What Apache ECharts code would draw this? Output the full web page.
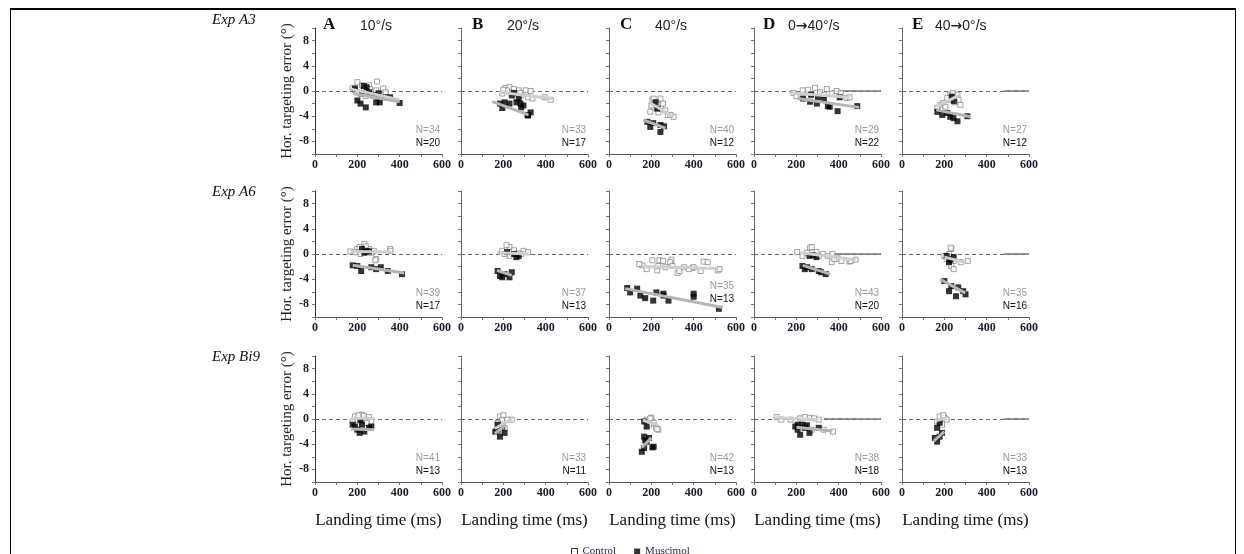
<!DOCTYPE html>
<html>
<head>
<meta charset="utf-8">
<script src="https://cdn.jsdelivr.net/npm/echarts@6/dist/echarts.min.js"></script>
<style>
  html, body { margin: 0; padding: 0; background: #fff; }
  #main { width: 1244px; height: 554px; }
</style>
</head>
<body>
<div id="main"></div>
<script>
// 行/列标签
var rowNames = ['Exp A3', 'Exp A6', 'Exp Bi9'];
var panelLetters = ['A', 'B', 'C', 'D', 'E'];
var speedLabels = ['10°/s', '20°/s', '40°/s', '0→40°/s', '40→0°/s'];
var nControl = [[34, 33, 40, 29, 27], [39, 37, 35, 43, 35], [41, 33, 42, 38, 33]];
var nMuscimol = [[20, 17, 12, 22, 12], [17, 13, 13, 20, 16], [13, 11, 13, 18, 13]];
// 零线从这里开始变为实线 (D, E 列)
var solidFrom = [[null, null, null, 370, 480], [null, null, null, 370, 480], [null, null, null, 330, 480]];

// Exp A3 数据 [landing time, error]
var ctlA3 = [
  [[200,1.4],[293,1.5],[189,0.1],[244,0.6],[322,0.4],[333,-0.2],[211,-0.4],[266,-0.4],[178,0.4],[233,0.1],[289,0.1],[255,0.9],[311,-0.7],[222,0.9],[200,-0.2],[260,0.3],[240,-0.8],[300,-0.3]],
  [[210,0.5],[229,0.6],[273,0.1],[306,0.1],[240,-0.2],[195,-0.4],[284,-0.7],[317,-1.0],[395,-1.0],[424,-1.4],[262,-1.2],[218,0.1],[329,0.0],[338,-1.2],[250,0.3],[200,0.2],[280,-0.3]],
  [[205,-1.4],[243,-1.2],[211,-1.2],[222,-1.8],[211,-2.6],[244,-2.8],[233,-3.4],[278,-3.8],[290,-3.8],[305,-4.1],[266,-3.1],[200,-2.3],[255,-2.0],[195,-3.3],[230,-2.2]],
  [[186,-0.3],[256,0.2],[288,0.5],[344,0.3],[390,0.0],[437,-1.1],[451,-1.0],[218,-0.6],[312,-0.2],[367,-0.4],[230,0.1],[270,-0.5],[330,-0.6],[410,-0.3],[200,-0.8]],
  [[228,-0.6],[219,-1.4],[243,-1.0],[267,-1.4],[276,-2.2],[181,-2.2],[195,-1.9],[214,-1.1],[262,-0.6],[167,-2.7],[240,-0.3],[250,-1.8],[205,-2.5]]
];
var musA3 = [
  [[189,0.4],[244,0.6],[200,-1.5],[240,-2.6],[289,-1.8],[306,-1.8],[355,-1.0],[400,-1.9],[255,-0.2],[333,-1.0],[278,-0.7],[222,-0.4],[300,-0.4],[230,0.8],[215,-2.0]],
  [[184,-2.0],[206,-1.8],[262,-1.8],[295,-2.3],[317,-3.9],[284,-2.6],[240,-0.7],[273,-1.2],[229,-2.0],[329,-3.4],[195,-2.7],[314,-3.8],[281,-2.0],[250,-0.3]],
  [[181,-4.9],[243,-5.4],[243,-6.5],[209,-5.1],[195,-5.7],[228,-2.8],[220,-1.8],[260,-5.6]],
  [[265,-1.7],[297,-2.0],[349,-2.4],[395,-3.2],[488,-2.4],[405,-1.0],[302,-1.0],[232,-1.2],[358,-2.5],[270,-0.6],[330,-1.4]],
  [[167,-3.3],[190,-3.8],[243,-4.3],[262,-4.8],[228,-4.1],[309,-4.0],[214,-3.5],[235,-0.9],[245,-1.6]]
];
var fitCtlA3 = [[[170,0.3],[400,-1.4]], [[180,-0.2],[430,-1.2]], [[195,-1.9],[305,-4.1]], [[172,-0.3],[451,-1.0]], [[162,-2.4],[276,-0.6]]];
var fitMusA3 = [[[180,-0.4],[400,-1.7]], [[148,-1.7],[319,-3.8]], [[162,-4.6],[267,-5.9]], [[205,-1.2],[497,-2.6]], [[162,-3.0],[324,-4.1]]];

// Exp A6 数据
var ctlA6 = [
  [[233,1.6],[200,0.8],[222,0.5],[255,0.8],[278,0.5],[289,-0.8],[355,0.8],[189,0.3],[167,0.4],[266,0.2],[211,1.1],[244,0.3],[285,-1.0],[357,0.5],[240,1.2],[215,0.0]],
  [[229,1.1],[195,0.5],[240,0.3],[295,0.5],[284,0.0],[262,-0.3],[229,-0.3],[317,0.3],[206,0.0],[250,0.6],[215,1.4],[270,0.1]],
  [[157,-1.8],[205,-1.0],[238,-1.0],[295,-0.9],[447,-1.2],[395,-2.2],[514,-2.6],[324,-3.0],[228,-2.6],[143,-1.6],[255,-1.1],[289,-1.3],[300,-1.9],[333,-2.7],[400,-2.1],[433,-2.7],[466,-1.3],[522,-2.4],[178,-2.4],[266,-2.1],[233,-1.9],[355,-2.1],[377,-2.4]],
  [[265,1.0],[367,-1.3],[451,-1.2],[395,-0.7],[251,0.2],[273,1.1],[204,0.3],[295,0.3],[326,0.0],[348,-0.3],[380,-0.8],[413,-1.1],[457,-1.1],[480,-0.9],[229,-0.3],[306,-0.3],[370,0.0]],
  [[233,0.8],[222,0.0],[211,-0.8],[244,-1.1],[233,-1.9],[278,-1.3],[311,-1.1],[244,-2.4],[200,-0.3],[230,1.0]]
];
var musA6 = [
  [[222,0.8],[244,0.5],[200,-1.9],[218,-2.7],[266,-2.1],[311,-2.1],[344,-2.7],[411,-3.2],[178,-1.8],[255,0.4],[289,-2.4],[233,0.2]],
  [[251,0.0],[273,-0.3],[173,-2.7],[184,-3.5],[229,-3.7],[206,-3.2],[240,-2.9],[195,-3.7],[218,0.3],[262,-0.5]],
  [[86,-5.4],[133,-5.5],[100,-6.1],[148,-6.6],[171,-7.0],[209,-7.4],[224,-6.1],[257,-6.3],[281,-7.4],[400,-6.3],[400,-6.8],[519,-8.7],[257,-6.6]],
  [[229,-1.9],[251,-2.1],[273,-2.4],[306,-2.7],[339,-3.2],[262,-0.3],[295,-0.5],[240,-2.4],[317,-2.9],[280,-0.2]],
  [[211,-0.3],[244,-0.5],[222,-1.3],[200,-4.3],[233,-5.1],[266,-5.3],[289,-5.9],[255,-6.7],[222,-5.9],[300,-6.4],[230,-0.9]]
];
var fitCtlA6 = [[[167,0.4],[360,0.3]], [[170,0.2],[320,0.0]], [[157,-2.0],[514,-2.3]], [[220,0.2],[480,-0.9]], [[200,-0.5],[300,-1.3]]];
var fitMusA6 = [[[178,-1.8],[422,-3.0]], [[170,-2.6],[240,-3.4]], [[76,-5.5],[538,-8.5]], [[230,-1.8],[360,-3.2]], [[180,-4.0],[300,-6.2]]];

// Exp Bi9 数据
var ctlBi9 = [
  [[189,0.4],[222,0.7],[255,0.3],[200,-0.1],[178,-0.4],[233,-0.1],[266,-0.4],[211,0.2],[244,-0.6],[230,0.5],[205,0.6]],
  [[184,0.4],[195,-0.1],[218,-0.1],[240,-0.1],[173,-0.6],[206,-1.4],[184,-2.0],[200,0.6]],
  [[178,-0.1],[200,0.2],[211,-0.6],[222,-1.4],[189,-0.9],[233,-1.7],[195,0.1],[228,-1.6]],
  [[107,0.3],[129,-0.1],[173,-0.1],[218,0.1],[262,0.2],[306,-0.1],[284,0.1],[373,-2.0],[329,-1.7],[240,-1.2],[273,-1.7],[240,0.3]],
  [[178,0.4],[200,0.2],[166,-0.4],[211,-0.1],[189,-0.9],[195,0.6]]
];
var musBi9 = [
  [[178,-0.9],[200,-1.7],[233,-2.0],[255,-1.4],[189,-1.2],[222,-0.9],[266,-1.2],[211,-2.2],[215,-0.2]],
  [[173,-0.9],[195,-1.2],[162,-2.0],[184,-2.8],[206,-2.2],[173,-1.7]],
  [[166,-0.4],[178,-1.2],[166,-2.8],[178,-3.6],[166,-4.6],[211,-4.4],[189,-3.0],[155,-5.2],[205,-4.5],[171,-3.4]],
  [[206,-0.9],[229,-0.9],[206,-1.7],[240,-1.4],[218,-2.5],[262,-2.2],[306,-1.4],[195,-1.2],[250,-1.0]],
  [[178,-0.6],[166,-1.4],[189,-2.2],[155,-3.0],[166,-3.6],[178,-2.8]]
];
var fitCtlBi9 = [[[170,0.1],[280,0.1]], [[160,-1.5],[240,0.0]], [[160,-0.2],[230,-0.9]], [[100,0.2],[300,-0.1]], [[160,-0.3],[210,0.2]]];
var fitMusBi9 = [[[170,-1.6],[280,-1.7]], [[160,-2.3],[210,-1.0]], [[155,-4.5],[200,-3.0]], [[200,-1.3],[370,-1.9]], [[150,-3.5],[200,-2.0]]];

var control = [ctlA3, ctlA6, ctlBi9];
var muscimol = [musA3, musA6, musBi9];
var fitCtl = [fitCtlA3, fitCtlA6, fitCtlBi9];
var fitMus = [fitMusA3, fitMusA6, fitMusBi9];

// 布局
var gridLeft = [315, 461, 609, 754, 902];
var gridTop = [28, 191, 356];
var expTop = [13, 185, 350];
var gridW = 127, gridH = 126;
var letterDx = [8, 11, 11, 9, 10];
var speedDx = [45, 46, 46, 34, 33];
var serif = '"Liberation Serif", "DejaVu Serif", serif';
var sans = '"Liberation Sans", Arial, sans-serif';

var myChart = echarts.init(document.getElementById('main'));

var grids = [], xAxes = [], yAxes = [], series = [], graphics = [];

for (var r = 0; r < 3; r++) {
  graphics.push({
    type: 'text', left: 212, top: expTop[r],
    style: { text: rowNames[r], font: 'italic 15px ' + serif, fill: '#111' }
  });
  for (var c = 0; c < 5; c++) {
    var idx = r * 5 + c;
    grids.push({ left: gridLeft[c], top: gridTop[r], width: gridW, height: gridH });
    xAxes.push({
      gridIndex: idx, type: 'value', min: 0, max: 600, interval: 100,
      axisLine: { onZero: false, lineStyle: { color: '#555', width: 1 } },
      axisTick: { length: 3, lineStyle: { color: '#777' } },
      splitLine: { show: false },
      axisLabel: {
        margin: 5, fontFamily: serif, fontWeight: 'bold', fontSize: 12, color: '#1a1a2a',
        formatter: function (v) { return v % 200 === 0 ? v : ''; }
      },
      name: r === 2 ? 'Landing time (ms)' : '',
      nameLocation: 'middle', nameGap: 30,
      nameTextStyle: { fontFamily: serif, fontSize: 17, color: '#111' }
    });
    yAxes.push({
      gridIndex: idx, type: 'value', min: -10, max: 10, interval: 2,
      axisLine: { onZero: false, lineStyle: { color: c === 0 ? '#333' : '#666', width: 1 } },
      axisTick: { length: 3, lineStyle: { color: '#777' } },
      splitLine: { show: false },
      axisLabel: {
        show: c === 0, margin: 6, fontFamily: serif, fontWeight: 'bold', fontSize: 12, color: '#1a1a2a',
        formatter: function (v) { return (v % 4 === 0 && Math.abs(v) < 10) ? v : ''; }
      },
      name: c === 0 ? 'Hor. targeting error (°)' : '',
      nameLocation: 'middle', nameGap: 20, nameRotate: 90,
      nameTextStyle: { fontFamily: serif, fontSize: 15, color: '#222' }
    });

    // 零线
    var zeroLines = [[{ coord: [0, 0] }, { coord: [600, 0] }]];
    if (solidFrom[r][c] !== null) {
      zeroLines.push([
        { coord: [solidFrom[r][c], 0], lineStyle: { type: 'solid', color: '#777', width: 1.5 } },
        { coord: [600, 0] }
      ]);
    }

    series.push({
      name: 'Control', type: 'scatter', xAxisIndex: idx, yAxisIndex: idx,
      symbol: 'rect', symbolSize: 5, z: 3,
      itemStyle: { color: '#fff', borderColor: '#8a8a8a', borderWidth: 1 },
      data: control[r][c],
      markLine: {
        silent: true, symbol: 'none', z: 1,
        label: { show: false },
        lineStyle: { type: [4, 3], color: '#666', width: 1.2 },
        data: zeroLines
      }
    });
    series.push({
      name: 'Muscimol', type: 'scatter', xAxisIndex: idx, yAxisIndex: idx,
      symbol: 'rect', symbolSize: 6, z: 4,
      itemStyle: { color: '#000' },
      data: muscimol[r][c]
    });
    series.push({
      name: 'fitCtl', type: 'line', xAxisIndex: idx, yAxisIndex: idx,
      symbol: 'none', silent: true, z: 5,
      lineStyle: { color: '#cfcfcf', width: 3 },
      data: fitCtl[r][c]
    });
    series.push({
      name: 'fitMus', type: 'line', xAxisIndex: idx, yAxisIndex: idx,
      symbol: 'none', silent: true, z: 5,
      lineStyle: { color: '#b5b5b5', width: 3 },
      data: fitMus[r][c]
    });

    // N 标注
    var lift = (r === 1 && c === 2) ? 7 : 0;
    graphics.push({
      type: 'text', x: gridLeft[c] + gridW - 2, y: gridTop[r] + gridH - 24 - lift,
      style: { text: 'N=' + nControl[r][c], font: '10px ' + sans, fill: '#9a9a9a', textAlign: 'right', textVerticalAlign: 'middle' }
    });
    graphics.push({
      type: 'text', x: gridLeft[c] + gridW - 2, y: gridTop[r] + gridH - 11 - lift,
      style: { text: 'N=' + nMuscimol[r][c], font: '10px ' + sans, fill: '#111', textAlign: 'right', textVerticalAlign: 'middle' }
    });

    if (r === 0) {
      graphics.push({
        type: 'text', x: gridLeft[c] + letterDx[c], y: 16,
        style: { text: panelLetters[c], font: 'bold 17px ' + serif, fill: '#111' }
      });
      graphics.push({
        type: 'text', x: gridLeft[c] + speedDx[c], y: 19,
        style: {
          text: speedLabels[c].replace('→', '{a|→}'),
          font: '14px ' + sans, fill: '#222',
          rich: { a: { fontFamily: 'DejaVu Sans', fontWeight: 'bold', fontSize: 14, fill: '#222' } }
        }
      });
    }
  }
}

// 外框
graphics.push({ type: 'rect', shape: { x: 10, y: 8, width: 1226, height: 2 }, style: { fill: '#000' } });
graphics.push({ type: 'rect', shape: { x: 10, y: 8, width: 1, height: 546 }, style: { fill: '#000' } });
graphics.push({ type: 'rect', shape: { x: 1235, y: 8, width: 1, height: 546 }, style: { fill: '#000' } });

var option = {
  backgroundColor: '#fff',
  animation: false,
  grid: grids,
  xAxis: xAxes,
  yAxis: yAxes,
  legend: {
    data: [
      { name: 'Control', icon: 'rect', itemStyle: { color: '#fff', borderColor: '#000', borderWidth: 1 } },
      { name: 'Muscimol', icon: 'rect', itemStyle: { color: '#000' } }
    ],
    left: 566, top: 541,
    itemWidth: 6, itemHeight: 6, itemGap: 18,
    textStyle: { fontFamily: serif, fontSize: 11, color: '#2a2a4a' }
  },
  graphic: graphics,
  series: series
};
myChart.setOption(option);
</script>
</body>
</html>
